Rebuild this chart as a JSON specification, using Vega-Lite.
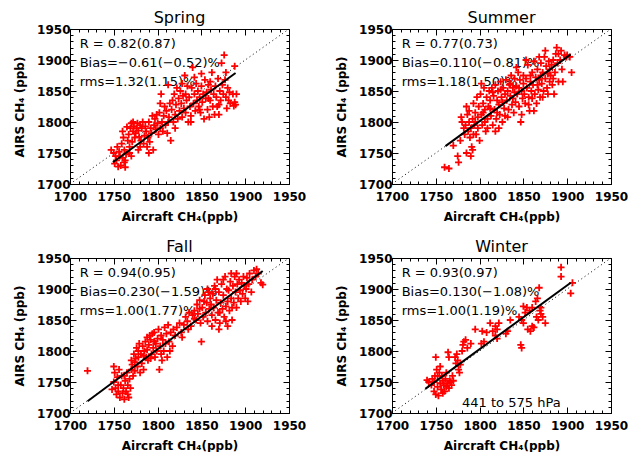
{
  "$schema": "https://vega.github.io/schema/vega-lite/v6.json",
  "background": "white",
  "padding": {"left": 13, "top": 9, "right": 5, "bottom": 0},
  "data": {"values": [
    {"p":"Spring","k":"one","x":1700,"y":1700},{"p":"Spring","k":"one","x":1950,"y":1950},
    {"p":"Summer","k":"one","x":1700,"y":1700},{"p":"Summer","k":"one","x":1950,"y":1950},
    {"p":"Fall","k":"one","x":1700,"y":1700},{"p":"Fall","k":"one","x":1950,"y":1950},
    {"p":"Winter","k":"one","x":1700,"y":1700},{"p":"Winter","k":"one","x":1950,"y":1950},
    {"p":"Spring","k":"fit","x":1749,"y":1735},{"p":"Spring","k":"fit","x":1889,"y":1879},
    {"p":"Summer","k":"fit","x":1761,"y":1761},{"p":"Summer","k":"fit","x":1904,"y":1909},
    {"p":"Fall","k":"fit","x":1720,"y":1719},{"p":"Fall","k":"fit","x":1920,"y":1929},
    {"p":"Winter","k":"fit","x":1738,"y":1739},{"p":"Winter","k":"fit","x":1904,"y":1910},
    {"p":"Spring","k":"txt","x":1711,"y":1926,"t":"R = 0.82(0.87)"},
    {"p":"Spring","k":"txt","x":1711,"y":1895,"t":"Bias=−0.61(−0.52)%"},
    {"p":"Spring","k":"txt","x":1711,"y":1865,"t":"rms=1.32(1.15)%"},
    {"p":"Summer","k":"txt","x":1711,"y":1926,"t":"R = 0.77(0.73)"},
    {"p":"Summer","k":"txt","x":1711,"y":1895,"t":"Bias=0.110(−0.81)%"},
    {"p":"Summer","k":"txt","x":1711,"y":1865,"t":"rms=1.18(1.50)%"},
    {"p":"Fall","k":"txt","x":1711,"y":1926,"t":"R = 0.94(0.95)"},
    {"p":"Fall","k":"txt","x":1711,"y":1895,"t":"Bias=0.230(−1.59)%"},
    {"p":"Fall","k":"txt","x":1711,"y":1865,"t":"rms=1.00(1.77)%"},
    {"p":"Winter","k":"txt","x":1711,"y":1926,"t":"R = 0.93(0.97)"},
    {"p":"Winter","k":"txt","x":1711,"y":1895,"t":"Bias=0.130(−1.08)%"},
    {"p":"Winter","k":"txt","x":1711,"y":1865,"t":"rms=1.00(1.19)%"},
    {"p":"Winter","k":"txt","x":1780,"y":1716,"t":"441  to  575  hPa"},

    {"p":"Spring","k":"pt","x":1747,"y":1755},{"p":"Spring","k":"pt","x":1750,"y":1750},{"p":"Spring","k":"pt","x":1752,"y":1745},{"p":"Spring","k":"pt","x":1753,"y":1738},{"p":"Spring","k":"pt","x":1755,"y":1728},{"p":"Spring","k":"pt","x":1754,"y":1760},{"p":"Spring","k":"pt","x":1756,"y":1752},{"p":"Spring","k":"pt","x":1751,"y":1733},
    {"p":"Spring","k":"pt","x":1757,"y":1745},{"p":"Spring","k":"pt","x":1758,"y":1730},{"p":"Spring","k":"pt","x":1760,"y":1742},{"p":"Spring","k":"pt","x":1759,"y":1765},{"p":"Spring","k":"pt","x":1761,"y":1775},{"p":"Spring","k":"pt","x":1762,"y":1755},{"p":"Spring","k":"pt","x":1763,"y":1738},{"p":"Spring","k":"pt","x":1764,"y":1748},{"p":"Spring","k":"pt","x":1760,"y":1785},{"p":"Spring","k":"pt","x":1765,"y":1792},{"p":"Spring","k":"pt","x":1766,"y":1770},{"p":"Spring","k":"pt","x":1763,"y":1727},{"p":"Spring","k":"pt","x":1762,"y":1735},
    {"p":"Spring","k":"pt","x":1767,"y":1780},{"p":"Spring","k":"pt","x":1768,"y":1760},{"p":"Spring","k":"pt","x":1769,"y":1790},{"p":"Spring","k":"pt","x":1770,"y":1798},{"p":"Spring","k":"pt","x":1771,"y":1768},{"p":"Spring","k":"pt","x":1772,"y":1785},{"p":"Spring","k":"pt","x":1773,"y":1793},{"p":"Spring","k":"pt","x":1774,"y":1775},{"p":"Spring","k":"pt","x":1768,"y":1750},{"p":"Spring","k":"pt","x":1770,"y":1745},{"p":"Spring","k":"pt","x":1772,"y":1800},{"p":"Spring","k":"pt","x":1775,"y":1782},
    {"p":"Spring","k":"pt","x":1776,"y":1790},{"p":"Spring","k":"pt","x":1777,"y":1798},{"p":"Spring","k":"pt","x":1778,"y":1786},{"p":"Spring","k":"pt","x":1779,"y":1776},{"p":"Spring","k":"pt","x":1780,"y":1795},{"p":"Spring","k":"pt","x":1781,"y":1770},{"p":"Spring","k":"pt","x":1782,"y":1790},{"p":"Spring","k":"pt","x":1783,"y":1800},{"p":"Spring","k":"pt","x":1784,"y":1765},{"p":"Spring","k":"pt","x":1785,"y":1778},{"p":"Spring","k":"pt","x":1778,"y":1755},{"p":"Spring","k":"pt","x":1780,"y":1760},
    {"p":"Spring","k":"pt","x":1786,"y":1793},{"p":"Spring","k":"pt","x":1787,"y":1785},{"p":"Spring","k":"pt","x":1788,"y":1760},{"p":"Spring","k":"pt","x":1789,"y":1775},{"p":"Spring","k":"pt","x":1790,"y":1800},{"p":"Spring","k":"pt","x":1791,"y":1768},{"p":"Spring","k":"pt","x":1792,"y":1790},{"p":"Spring","k":"pt","x":1793,"y":1782},{"p":"Spring","k":"pt","x":1794,"y":1810},{"p":"Spring","k":"pt","x":1795,"y":1755},{"p":"Spring","k":"pt","x":1790,"y":1750},
    {"p":"Spring","k":"pt","x":1796,"y":1795},{"p":"Spring","k":"pt","x":1797,"y":1805},{"p":"Spring","k":"pt","x":1798,"y":1788},{"p":"Spring","k":"pt","x":1799,"y":1812},{"p":"Spring","k":"pt","x":1800,"y":1798},{"p":"Spring","k":"pt","x":1801,"y":1780},{"p":"Spring","k":"pt","x":1802,"y":1815},{"p":"Spring","k":"pt","x":1803,"y":1830},{"p":"Spring","k":"pt","x":1804,"y":1845},{"p":"Spring","k":"pt","x":1805,"y":1800},{"p":"Spring","k":"pt","x":1803,"y":1790},
    {"p":"Spring","k":"pt","x":1806,"y":1785},{"p":"Spring","k":"pt","x":1807,"y":1810},{"p":"Spring","k":"pt","x":1808,"y":1825},{"p":"Spring","k":"pt","x":1809,"y":1795},{"p":"Spring","k":"pt","x":1810,"y":1818},{"p":"Spring","k":"pt","x":1811,"y":1782},{"p":"Spring","k":"pt","x":1812,"y":1860},{"p":"Spring","k":"pt","x":1813,"y":1808},{"p":"Spring","k":"pt","x":1814,"y":1830},{"p":"Spring","k":"pt","x":1815,"y":1770},{"p":"Spring","k":"pt","x":1812,"y":1800},
    {"p":"Spring","k":"pt","x":1816,"y":1820},{"p":"Spring","k":"pt","x":1817,"y":1835},{"p":"Spring","k":"pt","x":1818,"y":1800},{"p":"Spring","k":"pt","x":1819,"y":1845},{"p":"Spring","k":"pt","x":1820,"y":1812},{"p":"Spring","k":"pt","x":1821,"y":1828},{"p":"Spring","k":"pt","x":1822,"y":1855},{"p":"Spring","k":"pt","x":1823,"y":1805},{"p":"Spring","k":"pt","x":1824,"y":1838},{"p":"Spring","k":"pt","x":1825,"y":1818},{"p":"Spring","k":"pt","x":1820,"y":1790},
    {"p":"Spring","k":"pt","x":1826,"y":1850},{"p":"Spring","k":"pt","x":1827,"y":1830},{"p":"Spring","k":"pt","x":1828,"y":1808},{"p":"Spring","k":"pt","x":1829,"y":1842},{"p":"Spring","k":"pt","x":1830,"y":1822},{"p":"Spring","k":"pt","x":1831,"y":1875},{"p":"Spring","k":"pt","x":1832,"y":1815},{"p":"Spring","k":"pt","x":1833,"y":1835},{"p":"Spring","k":"pt","x":1834,"y":1858},{"p":"Spring","k":"pt","x":1835,"y":1800},{"p":"Spring","k":"pt","x":1828,"y":1862},{"p":"Spring","k":"pt","x":1832,"y":1845},
    {"p":"Spring","k":"pt","x":1836,"y":1840},{"p":"Spring","k":"pt","x":1837,"y":1825},{"p":"Spring","k":"pt","x":1838,"y":1810},{"p":"Spring","k":"pt","x":1839,"y":1855},{"p":"Spring","k":"pt","x":1840,"y":1888},{"p":"Spring","k":"pt","x":1841,"y":1830},{"p":"Spring","k":"pt","x":1842,"y":1845},{"p":"Spring","k":"pt","x":1843,"y":1818},{"p":"Spring","k":"pt","x":1844,"y":1862},{"p":"Spring","k":"pt","x":1845,"y":1835},{"p":"Spring","k":"pt","x":1838,"y":1800},{"p":"Spring","k":"pt","x":1842,"y":1872},
    {"p":"Spring","k":"pt","x":1846,"y":1850},{"p":"Spring","k":"pt","x":1847,"y":1825},{"p":"Spring","k":"pt","x":1848,"y":1840},{"p":"Spring","k":"pt","x":1849,"y":1815},{"p":"Spring","k":"pt","x":1850,"y":1858},{"p":"Spring","k":"pt","x":1851,"y":1832},{"p":"Spring","k":"pt","x":1852,"y":1845},{"p":"Spring","k":"pt","x":1853,"y":1805},{"p":"Spring","k":"pt","x":1854,"y":1868},{"p":"Spring","k":"pt","x":1855,"y":1838},{"p":"Spring","k":"pt","x":1850,"y":1878},{"p":"Spring","k":"pt","x":1848,"y":1820},
    {"p":"Spring","k":"pt","x":1856,"y":1848},{"p":"Spring","k":"pt","x":1857,"y":1820},{"p":"Spring","k":"pt","x":1858,"y":1860},{"p":"Spring","k":"pt","x":1859,"y":1808},{"p":"Spring","k":"pt","x":1860,"y":1835},{"p":"Spring","k":"pt","x":1861,"y":1852},{"p":"Spring","k":"pt","x":1862,"y":1880},{"p":"Spring","k":"pt","x":1863,"y":1825},{"p":"Spring","k":"pt","x":1864,"y":1845},{"p":"Spring","k":"pt","x":1865,"y":1812},{"p":"Spring","k":"pt","x":1860,"y":1865},{"p":"Spring","k":"pt","x":1858,"y":1838},
    {"p":"Spring","k":"pt","x":1866,"y":1858},{"p":"Spring","k":"pt","x":1867,"y":1840},{"p":"Spring","k":"pt","x":1868,"y":1825},{"p":"Spring","k":"pt","x":1869,"y":1870},{"p":"Spring","k":"pt","x":1870,"y":1812},{"p":"Spring","k":"pt","x":1871,"y":1850},{"p":"Spring","k":"pt","x":1872,"y":1835},{"p":"Spring","k":"pt","x":1873,"y":1895},{"p":"Spring","k":"pt","x":1874,"y":1860},{"p":"Spring","k":"pt","x":1875,"y":1845},{"p":"Spring","k":"pt","x":1870,"y":1828},
    {"p":"Spring","k":"pt","x":1876,"y":1908},{"p":"Spring","k":"pt","x":1877,"y":1868},{"p":"Spring","k":"pt","x":1878,"y":1840},{"p":"Spring","k":"pt","x":1879,"y":1822},{"p":"Spring","k":"pt","x":1880,"y":1855},{"p":"Spring","k":"pt","x":1881,"y":1835},{"p":"Spring","k":"pt","x":1882,"y":1848},{"p":"Spring","k":"pt","x":1883,"y":1830},{"p":"Spring","k":"pt","x":1878,"y":1880},
    {"p":"Spring","k":"pt","x":1886,"y":1845},{"p":"Spring","k":"pt","x":1888,"y":1832},{"p":"Spring","k":"pt","x":1889,"y":1828},{"p":"Spring","k":"pt","x":1890,"y":1845},{"p":"Spring","k":"pt","x":1888,"y":1890},{"p":"Spring","k":"pt","x":1887,"y":1826},

    {"p":"Summer","k":"pt","x":1760,"y":1727},{"p":"Summer","k":"pt","x":1765,"y":1725},{"p":"Summer","k":"pt","x":1770,"y":1762},{"p":"Summer","k":"pt","x":1775,"y":1745},{"p":"Summer","k":"pt","x":1776,"y":1735},{"p":"Summer","k":"pt","x":1778,"y":1770},{"p":"Summer","k":"pt","x":1780,"y":1800},{"p":"Summer","k":"pt","x":1782,"y":1790},{"p":"Summer","k":"pt","x":1779,"y":1808},
    {"p":"Summer","k":"pt","x":1783,"y":1780},{"p":"Summer","k":"pt","x":1784,"y":1795},{"p":"Summer","k":"pt","x":1785,"y":1825},{"p":"Summer","k":"pt","x":1786,"y":1812},{"p":"Summer","k":"pt","x":1787,"y":1785},{"p":"Summer","k":"pt","x":1788,"y":1800},{"p":"Summer","k":"pt","x":1789,"y":1775},{"p":"Summer","k":"pt","x":1785,"y":1750},{"p":"Summer","k":"pt","x":1790,"y":1745},{"p":"Summer","k":"pt","x":1788,"y":1818},{"p":"Summer","k":"pt","x":1790,"y":1790},
    {"p":"Summer","k":"pt","x":1791,"y":1760},{"p":"Summer","k":"pt","x":1792,"y":1755},{"p":"Summer","k":"pt","x":1792,"y":1805},{"p":"Summer","k":"pt","x":1793,"y":1830},{"p":"Summer","k":"pt","x":1794,"y":1795},{"p":"Summer","k":"pt","x":1795,"y":1815},{"p":"Summer","k":"pt","x":1796,"y":1780},{"p":"Summer","k":"pt","x":1797,"y":1840},{"p":"Summer","k":"pt","x":1798,"y":1808},{"p":"Summer","k":"pt","x":1799,"y":1825},{"p":"Summer","k":"pt","x":1800,"y":1770},{"p":"Summer","k":"pt","x":1795,"y":1800},{"p":"Summer","k":"pt","x":1798,"y":1790},{"p":"Summer","k":"pt","x":1793,"y":1780},
    {"p":"Summer","k":"pt","x":1801,"y":1845},{"p":"Summer","k":"pt","x":1802,"y":1812},{"p":"Summer","k":"pt","x":1803,"y":1795},{"p":"Summer","k":"pt","x":1804,"y":1830},{"p":"Summer","k":"pt","x":1805,"y":1855},{"p":"Summer","k":"pt","x":1806,"y":1820},{"p":"Summer","k":"pt","x":1807,"y":1785},{"p":"Summer","k":"pt","x":1808,"y":1840},{"p":"Summer","k":"pt","x":1809,"y":1805},{"p":"Summer","k":"pt","x":1810,"y":1825},{"p":"Summer","k":"pt","x":1802,"y":1862},{"p":"Summer","k":"pt","x":1806,"y":1800},{"p":"Summer","k":"pt","x":1809,"y":1790},{"p":"Summer","k":"pt","x":1804,"y":1815},
    {"p":"Summer","k":"pt","x":1811,"y":1850},{"p":"Summer","k":"pt","x":1812,"y":1835},{"p":"Summer","k":"pt","x":1813,"y":1810},{"p":"Summer","k":"pt","x":1814,"y":1855},{"p":"Summer","k":"pt","x":1815,"y":1795},{"p":"Summer","k":"pt","x":1816,"y":1842},{"p":"Summer","k":"pt","x":1817,"y":1820},{"p":"Summer","k":"pt","x":1818,"y":1860},{"p":"Summer","k":"pt","x":1819,"y":1805},{"p":"Summer","k":"pt","x":1820,"y":1835},{"p":"Summer","k":"pt","x":1812,"y":1822},{"p":"Summer","k":"pt","x":1815,"y":1848},{"p":"Summer","k":"pt","x":1818,"y":1785},{"p":"Summer","k":"pt","x":1820,"y":1815},
    {"p":"Summer","k":"pt","x":1821,"y":1850},{"p":"Summer","k":"pt","x":1822,"y":1828},{"p":"Summer","k":"pt","x":1823,"y":1812},{"p":"Summer","k":"pt","x":1824,"y":1865},{"p":"Summer","k":"pt","x":1825,"y":1840},{"p":"Summer","k":"pt","x":1826,"y":1800},{"p":"Summer","k":"pt","x":1827,"y":1855},{"p":"Summer","k":"pt","x":1828,"y":1822},{"p":"Summer","k":"pt","x":1829,"y":1845},{"p":"Summer","k":"pt","x":1830,"y":1868},{"p":"Summer","k":"pt","x":1822,"y":1790},{"p":"Summer","k":"pt","x":1826,"y":1832},{"p":"Summer","k":"pt","x":1829,"y":1810},{"p":"Summer","k":"pt","x":1824,"y":1852},
    {"p":"Summer","k":"pt","x":1831,"y":1835},{"p":"Summer","k":"pt","x":1832,"y":1850},{"p":"Summer","k":"pt","x":1833,"y":1820},{"p":"Summer","k":"pt","x":1834,"y":1860},{"p":"Summer","k":"pt","x":1835,"y":1842},{"p":"Summer","k":"pt","x":1836,"y":1875},{"p":"Summer","k":"pt","x":1837,"y":1828},{"p":"Summer","k":"pt","x":1838,"y":1855},{"p":"Summer","k":"pt","x":1839,"y":1815},{"p":"Summer","k":"pt","x":1840,"y":1848},{"p":"Summer","k":"pt","x":1832,"y":1808},{"p":"Summer","k":"pt","x":1835,"y":1862},{"p":"Summer","k":"pt","x":1838,"y":1838},{"p":"Summer","k":"pt","x":1840,"y":1870},
    {"p":"Summer","k":"pt","x":1841,"y":1832},{"p":"Summer","k":"pt","x":1842,"y":1858},{"p":"Summer","k":"pt","x":1843,"y":1845},{"p":"Summer","k":"pt","x":1844,"y":1880},{"p":"Summer","k":"pt","x":1845,"y":1825},{"p":"Summer","k":"pt","x":1846,"y":1868},{"p":"Summer","k":"pt","x":1847,"y":1800},{"p":"Summer","k":"pt","x":1848,"y":1850},{"p":"Summer","k":"pt","x":1849,"y":1838},{"p":"Summer","k":"pt","x":1850,"y":1862},{"p":"Summer","k":"pt","x":1842,"y":1888},{"p":"Summer","k":"pt","x":1845,"y":1855},{"p":"Summer","k":"pt","x":1848,"y":1812},{"p":"Summer","k":"pt","x":1850,"y":1875},
    {"p":"Summer","k":"pt","x":1851,"y":1845},{"p":"Summer","k":"pt","x":1852,"y":1830},{"p":"Summer","k":"pt","x":1853,"y":1870},{"p":"Summer","k":"pt","x":1854,"y":1855},{"p":"Summer","k":"pt","x":1855,"y":1892},{"p":"Summer","k":"pt","x":1856,"y":1840},{"p":"Summer","k":"pt","x":1857,"y":1818},{"p":"Summer","k":"pt","x":1858,"y":1865},{"p":"Summer","k":"pt","x":1859,"y":1850},{"p":"Summer","k":"pt","x":1860,"y":1880},{"p":"Summer","k":"pt","x":1853,"y":1900},{"p":"Summer","k":"pt","x":1856,"y":1828},{"p":"Summer","k":"pt","x":1860,"y":1838},{"p":"Summer","k":"pt","x":1858,"y":1875},
    {"p":"Summer","k":"pt","x":1861,"y":1860},{"p":"Summer","k":"pt","x":1862,"y":1898},{"p":"Summer","k":"pt","x":1863,"y":1845},{"p":"Summer","k":"pt","x":1864,"y":1872},{"p":"Summer","k":"pt","x":1865,"y":1830},{"p":"Summer","k":"pt","x":1866,"y":1885},{"p":"Summer","k":"pt","x":1867,"y":1852},{"p":"Summer","k":"pt","x":1868,"y":1868},{"p":"Summer","k":"pt","x":1869,"y":1840},{"p":"Summer","k":"pt","x":1870,"y":1875},{"p":"Summer","k":"pt","x":1862,"y":1818},{"p":"Summer","k":"pt","x":1866,"y":1860},{"p":"Summer","k":"pt","x":1870,"y":1895},{"p":"Summer","k":"pt","x":1868,"y":1905},
    {"p":"Summer","k":"pt","x":1871,"y":1862},{"p":"Summer","k":"pt","x":1872,"y":1880},{"p":"Summer","k":"pt","x":1873,"y":1850},{"p":"Summer","k":"pt","x":1874,"y":1905},{"p":"Summer","k":"pt","x":1875,"y":1870},{"p":"Summer","k":"pt","x":1876,"y":1890},{"p":"Summer","k":"pt","x":1877,"y":1855},{"p":"Summer","k":"pt","x":1878,"y":1878},{"p":"Summer","k":"pt","x":1879,"y":1898},{"p":"Summer","k":"pt","x":1880,"y":1865},{"p":"Summer","k":"pt","x":1872,"y":1840},{"p":"Summer","k":"pt","x":1875,"y":1915},{"p":"Summer","k":"pt","x":1878,"y":1845},{"p":"Summer","k":"pt","x":1880,"y":1885},
    {"p":"Summer","k":"pt","x":1881,"y":1875},{"p":"Summer","k":"pt","x":1882,"y":1892},{"p":"Summer","k":"pt","x":1883,"y":1860},{"p":"Summer","k":"pt","x":1884,"y":1900},{"p":"Summer","k":"pt","x":1885,"y":1845},{"p":"Summer","k":"pt","x":1886,"y":1880},{"p":"Summer","k":"pt","x":1887,"y":1910},{"p":"Summer","k":"pt","x":1888,"y":1920},{"p":"Summer","k":"pt","x":1889,"y":1895},{"p":"Summer","k":"pt","x":1890,"y":1865},{"p":"Summer","k":"pt","x":1884,"y":1870},{"p":"Summer","k":"pt","x":1890,"y":1910},
    {"p":"Summer","k":"pt","x":1892,"y":1900},{"p":"Summer","k":"pt","x":1894,"y":1885},{"p":"Summer","k":"pt","x":1895,"y":1865},{"p":"Summer","k":"pt","x":1897,"y":1908},{"p":"Summer","k":"pt","x":1899,"y":1905},{"p":"Summer","k":"pt","x":1900,"y":1908},{"p":"Summer","k":"pt","x":1903,"y":1905},{"p":"Summer","k":"pt","x":1905,"y":1880},{"p":"Summer","k":"pt","x":1893,"y":1915},

    {"p":"Fall","k":"pt","x":1720,"y":1768},
    {"p":"Fall","k":"pt","x":1748,"y":1738},{"p":"Fall","k":"pt","x":1750,"y":1775},{"p":"Fall","k":"pt","x":1751,"y":1765},{"p":"Fall","k":"pt","x":1752,"y":1740},{"p":"Fall","k":"pt","x":1753,"y":1730},{"p":"Fall","k":"pt","x":1754,"y":1758},{"p":"Fall","k":"pt","x":1755,"y":1735},{"p":"Fall","k":"pt","x":1756,"y":1770},{"p":"Fall","k":"pt","x":1757,"y":1725},{"p":"Fall","k":"pt","x":1758,"y":1745},{"p":"Fall","k":"pt","x":1759,"y":1760},{"p":"Fall","k":"pt","x":1760,"y":1732},{"p":"Fall","k":"pt","x":1750,"y":1750},{"p":"Fall","k":"pt","x":1755,"y":1745},
    {"p":"Fall","k":"pt","x":1761,"y":1740},{"p":"Fall","k":"pt","x":1762,"y":1722},{"p":"Fall","k":"pt","x":1763,"y":1752},{"p":"Fall","k":"pt","x":1764,"y":1735},{"p":"Fall","k":"pt","x":1765,"y":1765},{"p":"Fall","k":"pt","x":1766,"y":1745},{"p":"Fall","k":"pt","x":1767,"y":1725},{"p":"Fall","k":"pt","x":1768,"y":1755},{"p":"Fall","k":"pt","x":1769,"y":1740},{"p":"Fall","k":"pt","x":1770,"y":1770},{"p":"Fall","k":"pt","x":1762,"y":1760},{"p":"Fall","k":"pt","x":1766,"y":1730},{"p":"Fall","k":"pt","x":1770,"y":1785},
    {"p":"Fall","k":"pt","x":1771,"y":1778},{"p":"Fall","k":"pt","x":1772,"y":1760},{"p":"Fall","k":"pt","x":1773,"y":1795},{"p":"Fall","k":"pt","x":1774,"y":1768},{"p":"Fall","k":"pt","x":1775,"y":1788},{"p":"Fall","k":"pt","x":1776,"y":1805},{"p":"Fall","k":"pt","x":1777,"y":1775},{"p":"Fall","k":"pt","x":1778,"y":1790},{"p":"Fall","k":"pt","x":1779,"y":1812},{"p":"Fall","k":"pt","x":1780,"y":1765},{"p":"Fall","k":"pt","x":1774,"y":1782},{"p":"Fall","k":"pt","x":1778,"y":1800},
    {"p":"Fall","k":"pt","x":1781,"y":1795},{"p":"Fall","k":"pt","x":1782,"y":1780},{"p":"Fall","k":"pt","x":1783,"y":1808},{"p":"Fall","k":"pt","x":1784,"y":1770},{"p":"Fall","k":"pt","x":1785,"y":1800},{"p":"Fall","k":"pt","x":1786,"y":1815},{"p":"Fall","k":"pt","x":1787,"y":1790},{"p":"Fall","k":"pt","x":1788,"y":1822},{"p":"Fall","k":"pt","x":1789,"y":1785},{"p":"Fall","k":"pt","x":1790,"y":1810},{"p":"Fall","k":"pt","x":1784,"y":1792},{"p":"Fall","k":"pt","x":1788,"y":1802},
    {"p":"Fall","k":"pt","x":1791,"y":1825},{"p":"Fall","k":"pt","x":1792,"y":1818},{"p":"Fall","k":"pt","x":1793,"y":1795},{"p":"Fall","k":"pt","x":1794,"y":1828},{"p":"Fall","k":"pt","x":1795,"y":1805},{"p":"Fall","k":"pt","x":1796,"y":1830},{"p":"Fall","k":"pt","x":1797,"y":1790},{"p":"Fall","k":"pt","x":1798,"y":1812},{"p":"Fall","k":"pt","x":1799,"y":1800},{"p":"Fall","k":"pt","x":1800,"y":1820},{"p":"Fall","k":"pt","x":1792,"y":1788},{"p":"Fall","k":"pt","x":1796,"y":1815},
    {"p":"Fall","k":"pt","x":1801,"y":1835},{"p":"Fall","k":"pt","x":1802,"y":1770},{"p":"Fall","k":"pt","x":1803,"y":1808},{"p":"Fall","k":"pt","x":1804,"y":1825},{"p":"Fall","k":"pt","x":1805,"y":1785},{"p":"Fall","k":"pt","x":1806,"y":1818},{"p":"Fall","k":"pt","x":1807,"y":1800},{"p":"Fall","k":"pt","x":1808,"y":1838},{"p":"Fall","k":"pt","x":1809,"y":1812},{"p":"Fall","k":"pt","x":1810,"y":1828},{"p":"Fall","k":"pt","x":1804,"y":1795},
    {"p":"Fall","k":"pt","x":1811,"y":1790},{"p":"Fall","k":"pt","x":1812,"y":1842},{"p":"Fall","k":"pt","x":1813,"y":1815},{"p":"Fall","k":"pt","x":1815,"y":1830},{"p":"Fall","k":"pt","x":1817,"y":1808},{"p":"Fall","k":"pt","x":1818,"y":1835},{"p":"Fall","k":"pt","x":1820,"y":1825},{"p":"Fall","k":"pt","x":1814,"y":1800},
    {"p":"Fall","k":"pt","x":1822,"y":1838},{"p":"Fall","k":"pt","x":1825,"y":1845},{"p":"Fall","k":"pt","x":1827,"y":1830},{"p":"Fall","k":"pt","x":1830,"y":1842},{"p":"Fall","k":"pt","x":1832,"y":1855},{"p":"Fall","k":"pt","x":1834,"y":1848},{"p":"Fall","k":"pt","x":1836,"y":1862},{"p":"Fall","k":"pt","x":1838,"y":1840},{"p":"Fall","k":"pt","x":1840,"y":1858},{"p":"Fall","k":"pt","x":1828,"y":1822},{"p":"Fall","k":"pt","x":1835,"y":1835},
    {"p":"Fall","k":"pt","x":1842,"y":1865},{"p":"Fall","k":"pt","x":1844,"y":1850},{"p":"Fall","k":"pt","x":1845,"y":1875},{"p":"Fall","k":"pt","x":1846,"y":1860},{"p":"Fall","k":"pt","x":1848,"y":1882},{"p":"Fall","k":"pt","x":1849,"y":1845},{"p":"Fall","k":"pt","x":1850,"y":1815},{"p":"Fall","k":"pt","x":1851,"y":1870},{"p":"Fall","k":"pt","x":1852,"y":1855},{"p":"Fall","k":"pt","x":1854,"y":1890},{"p":"Fall","k":"pt","x":1855,"y":1862},{"p":"Fall","k":"pt","x":1856,"y":1878},{"p":"Fall","k":"pt","x":1857,"y":1848},{"p":"Fall","k":"pt","x":1858,"y":1895},{"p":"Fall","k":"pt","x":1859,"y":1868},{"p":"Fall","k":"pt","x":1860,"y":1885},{"p":"Fall","k":"pt","x":1842,"y":1852},{"p":"Fall","k":"pt","x":1848,"y":1868},{"p":"Fall","k":"pt","x":1853,"y":1880},{"p":"Fall","k":"pt","x":1857,"y":1900},
    {"p":"Fall","k":"pt","x":1861,"y":1875},{"p":"Fall","k":"pt","x":1862,"y":1858},{"p":"Fall","k":"pt","x":1863,"y":1892},{"p":"Fall","k":"pt","x":1864,"y":1870},{"p":"Fall","k":"pt","x":1865,"y":1905},{"p":"Fall","k":"pt","x":1866,"y":1850},{"p":"Fall","k":"pt","x":1867,"y":1882},{"p":"Fall","k":"pt","x":1868,"y":1915},{"p":"Fall","k":"pt","x":1869,"y":1862},{"p":"Fall","k":"pt","x":1870,"y":1895},{"p":"Fall","k":"pt","x":1871,"y":1845},{"p":"Fall","k":"pt","x":1872,"y":1878},{"p":"Fall","k":"pt","x":1873,"y":1908},{"p":"Fall","k":"pt","x":1874,"y":1868},{"p":"Fall","k":"pt","x":1875,"y":1890},{"p":"Fall","k":"pt","x":1876,"y":1855},{"p":"Fall","k":"pt","x":1877,"y":1920},{"p":"Fall","k":"pt","x":1878,"y":1872},{"p":"Fall","k":"pt","x":1879,"y":1900},{"p":"Fall","k":"pt","x":1880,"y":1840},{"p":"Fall","k":"pt","x":1866,"y":1900},{"p":"Fall","k":"pt","x":1871,"y":1862},{"p":"Fall","k":"pt","x":1875,"y":1915},{"p":"Fall","k":"pt","x":1878,"y":1848},{"p":"Fall","k":"pt","x":1862,"y":1840},{"p":"Fall","k":"pt","x":1870,"y":1835},{"p":"Fall","k":"pt","x":1880,"y":1880},
    {"p":"Fall","k":"pt","x":1881,"y":1898},{"p":"Fall","k":"pt","x":1882,"y":1865},{"p":"Fall","k":"pt","x":1883,"y":1912},{"p":"Fall","k":"pt","x":1884,"y":1885},{"p":"Fall","k":"pt","x":1885,"y":1850},{"p":"Fall","k":"pt","x":1886,"y":1905},{"p":"Fall","k":"pt","x":1887,"y":1878},{"p":"Fall","k":"pt","x":1888,"y":1920},{"p":"Fall","k":"pt","x":1889,"y":1895},{"p":"Fall","k":"pt","x":1890,"y":1870},{"p":"Fall","k":"pt","x":1891,"y":1908},{"p":"Fall","k":"pt","x":1892,"y":1885},{"p":"Fall","k":"pt","x":1893,"y":1915},{"p":"Fall","k":"pt","x":1894,"y":1898},{"p":"Fall","k":"pt","x":1895,"y":1880},{"p":"Fall","k":"pt","x":1896,"y":1910},{"p":"Fall","k":"pt","x":1897,"y":1892},{"p":"Fall","k":"pt","x":1898,"y":1920},{"p":"Fall","k":"pt","x":1899,"y":1905},{"p":"Fall","k":"pt","x":1900,"y":1885},{"p":"Fall","k":"pt","x":1884,"y":1925},{"p":"Fall","k":"pt","x":1890,"y":1925},{"p":"Fall","k":"pt","x":1885,"y":1870},
    {"p":"Fall","k":"pt","x":1901,"y":1900},{"p":"Fall","k":"pt","x":1902,"y":1918},{"p":"Fall","k":"pt","x":1904,"y":1908},{"p":"Fall","k":"pt","x":1905,"y":1925},{"p":"Fall","k":"pt","x":1907,"y":1895},{"p":"Fall","k":"pt","x":1908,"y":1915},{"p":"Fall","k":"pt","x":1910,"y":1930},{"p":"Fall","k":"pt","x":1912,"y":1920},{"p":"Fall","k":"pt","x":1913,"y":1932},{"p":"Fall","k":"pt","x":1915,"y":1925},{"p":"Fall","k":"pt","x":1918,"y":1910},{"p":"Fall","k":"pt","x":1920,"y":1907},{"p":"Fall","k":"pt","x":1903,"y":1880},

    {"p":"Winter","k":"pt","x":1740,"y":1753},{"p":"Winter","k":"pt","x":1742,"y":1750},{"p":"Winter","k":"pt","x":1745,"y":1745},{"p":"Winter","k":"pt","x":1746,"y":1755},{"p":"Winter","k":"pt","x":1748,"y":1735},{"p":"Winter","k":"pt","x":1749,"y":1760},{"p":"Winter","k":"pt","x":1750,"y":1790},{"p":"Winter","k":"pt","x":1750,"y":1730},{"p":"Winter","k":"pt","x":1751,"y":1770},{"p":"Winter","k":"pt","x":1752,"y":1742},{"p":"Winter","k":"pt","x":1753,"y":1728},{"p":"Winter","k":"pt","x":1754,"y":1765},{"p":"Winter","k":"pt","x":1755,"y":1748},{"p":"Winter","k":"pt","x":1756,"y":1738},{"p":"Winter","k":"pt","x":1757,"y":1760},{"p":"Winter","k":"pt","x":1758,"y":1752},{"p":"Winter","k":"pt","x":1759,"y":1745},{"p":"Winter","k":"pt","x":1760,"y":1735},{"p":"Winter","k":"pt","x":1761,"y":1755},{"p":"Winter","k":"pt","x":1762,"y":1765},{"p":"Winter","k":"pt","x":1763,"y":1748},{"p":"Winter","k":"pt","x":1764,"y":1798},{"p":"Winter","k":"pt","x":1765,"y":1790},{"p":"Winter","k":"pt","x":1766,"y":1752},{"p":"Winter","k":"pt","x":1767,"y":1750},{"p":"Winter","k":"pt","x":1768,"y":1745},{"p":"Winter","k":"pt","x":1769,"y":1760},{"p":"Winter","k":"pt","x":1770,"y":1752},{"p":"Winter","k":"pt","x":1765,"y":1740},{"p":"Winter","k":"pt","x":1755,"y":1775},{"p":"Winter","k":"pt","x":1752,"y":1760},{"p":"Winter","k":"pt","x":1748,"y":1750},{"p":"Winter","k":"pt","x":1758,"y":1732},{"p":"Winter","k":"pt","x":1762,"y":1742},
    {"p":"Winter","k":"pt","x":1772,"y":1790},{"p":"Winter","k":"pt","x":1773,"y":1780},{"p":"Winter","k":"pt","x":1775,"y":1785},{"p":"Winter","k":"pt","x":1776,"y":1770},{"p":"Winter","k":"pt","x":1778,"y":1778},{"p":"Winter","k":"pt","x":1780,"y":1800},{"p":"Winter","k":"pt","x":1782,"y":1815},{"p":"Winter","k":"pt","x":1784,"y":1818},{"p":"Winter","k":"pt","x":1786,"y":1805},{"p":"Winter","k":"pt","x":1790,"y":1812},{"p":"Winter","k":"pt","x":1795,"y":1835},{"p":"Winter","k":"pt","x":1774,"y":1795},{"p":"Winter","k":"pt","x":1777,"y":1765},{"p":"Winter","k":"pt","x":1781,"y":1810},
    {"p":"Winter","k":"pt","x":1802,"y":1812},{"p":"Winter","k":"pt","x":1803,"y":1832},{"p":"Winter","k":"pt","x":1805,"y":1815},{"p":"Winter","k":"pt","x":1808,"y":1830},{"p":"Winter","k":"pt","x":1812,"y":1845},{"p":"Winter","k":"pt","x":1815,"y":1832},{"p":"Winter","k":"pt","x":1818,"y":1840},{"p":"Winter","k":"pt","x":1820,"y":1835},{"p":"Winter","k":"pt","x":1822,"y":1845},{"p":"Winter","k":"pt","x":1820,"y":1820},{"p":"Winter","k":"pt","x":1832,"y":1832},{"p":"Winter","k":"pt","x":1835,"y":1850},{"p":"Winter","k":"pt","x":1830,"y":1828},{"p":"Winter","k":"pt","x":1818,"y":1825},
    {"p":"Winter","k":"pt","x":1845,"y":1855},{"p":"Winter","k":"pt","x":1847,"y":1810},{"p":"Winter","k":"pt","x":1848,"y":1805},{"p":"Winter","k":"pt","x":1848,"y":1850},{"p":"Winter","k":"pt","x":1850,"y":1845},{"p":"Winter","k":"pt","x":1850,"y":1872},{"p":"Winter","k":"pt","x":1852,"y":1862},{"p":"Winter","k":"pt","x":1854,"y":1870},{"p":"Winter","k":"pt","x":1855,"y":1835},{"p":"Winter","k":"pt","x":1857,"y":1865},{"p":"Winter","k":"pt","x":1858,"y":1832},{"p":"Winter","k":"pt","x":1860,"y":1840},{"p":"Winter","k":"pt","x":1862,"y":1838},{"p":"Winter","k":"pt","x":1864,"y":1880},{"p":"Winter","k":"pt","x":1865,"y":1855},{"p":"Winter","k":"pt","x":1867,"y":1850},{"p":"Winter","k":"pt","x":1868,"y":1902},{"p":"Winter","k":"pt","x":1869,"y":1865},{"p":"Winter","k":"pt","x":1870,"y":1860},{"p":"Winter","k":"pt","x":1870,"y":1870},{"p":"Winter","k":"pt","x":1872,"y":1855},{"p":"Winter","k":"pt","x":1875,"y":1845},{"p":"Winter","k":"pt","x":1866,"y":1885},{"p":"Winter","k":"pt","x":1860,"y":1870},
    {"p":"Winter","k":"pt","x":1893,"y":1935},{"p":"Winter","k":"pt","x":1893,"y":1920},{"p":"Winter","k":"pt","x":1906,"y":1910},{"p":"Winter","k":"pt","x":1904,"y":1893}
  ]},
  "facet": {"field": "p", "type": "nominal", "sort": ["Spring", "Summer", "Fall", "Winter"],
    "header": {"title": null, "labelFontSize": 16, "labelFont": "DejaVu Sans", "labelColor": "black", "labelPadding": -3}},
  "columns": 2,
  "spacing": {"column": 28, "row": 15},
  "resolve": {"axis": {"x": "independent", "y": "independent"}},
  "spec": {
    "width": 219,
    "height": 155,
    "resolve": {"axis": {"x": "independent", "y": "independent"}},
    "layer": [
      {
        "transform": [{"filter": "datum.k === 'txt'"}],
        "mark": {"type": "text", "align": "left", "baseline": "middle", "font": "DejaVu Sans", "fontSize": 13, "color": "black"},
        "encoding": {
          "x": {"field": "x", "type": "quantitative", "scale": {"domain": [1700, 1950], "nice": false},
            "axis": {"orient": "top", "labels": false, "title": null, "values": [1700, 1750, 1800, 1850, 1900, 1950], "tickSize": -6, "domain": false}},
          "y": {"field": "y", "type": "quantitative", "scale": {"domain": [1700, 1950], "nice": false},
            "axis": {"orient": "right", "labels": false, "title": null, "values": [1700, 1750, 1800, 1850, 1900, 1950], "tickSize": -6, "domain": false}},
          "text": {"field": "t"}
        }
      },
      {
        "transform": [{"filter": "datum.k === 'one'"}],
        "mark": {"type": "line", "color": "black", "strokeWidth": 1, "strokeDash": [1, 3]},
        "encoding": {
          "x": {"field": "x", "type": "quantitative", "scale": {"domain": [1700, 1950], "nice": false},
            "axis": {"orient": "bottom", "title": "Aircraft CH₄(ppb)", "values": [1700, 1750, 1800, 1850, 1900, 1950], "format": "d", "tickSize": -6, "labelPadding": 13, "labelOverlap": false, "labelFlush": false, "titlePadding": 9}},
          "y": {"field": "y", "type": "quantitative", "scale": {"domain": [1700, 1950], "nice": false},
            "axis": {"orient": "left", "title": "AIRS CH₄ (ppb)", "values": [1700, 1750, 1800, 1850, 1900, 1950], "format": "d", "tickSize": -6, "labelPadding": 6, "labelOverlap": false, "titlePadding": 10}}
        }
      },
      {
        "transform": [{"filter": "datum.k === 'one'"}],
        "mark": {"type": "line", "opacity": 0},
        "encoding": {
          "x": {"field": "x", "type": "quantitative",
            "axis": {"orient": "bottom", "labels": false, "title": null, "domain": false, "values": [1710, 1720, 1730, 1740, 1760, 1770, 1780, 1790, 1810, 1820, 1830, 1840, 1860, 1870, 1880, 1890, 1910, 1920, 1930, 1940], "tickSize": -3}},
          "y": {"field": "y", "type": "quantitative",
            "axis": {"orient": "left", "labels": false, "title": null, "domain": false, "values": [1710, 1720, 1730, 1740, 1760, 1770, 1780, 1790, 1810, 1820, 1830, 1840, 1860, 1870, 1880, 1890, 1910, 1920, 1930, 1940], "tickSize": -3}}
        }
      },
      {
        "transform": [{"filter": "datum.k === 'one'"}],
        "mark": {"type": "line", "opacity": 0},
        "encoding": {
          "x": {"field": "x", "type": "quantitative",
            "axis": {"orient": "top", "labels": false, "title": null, "domain": false, "values": [1710, 1720, 1730, 1740, 1760, 1770, 1780, 1790, 1810, 1820, 1830, 1840, 1860, 1870, 1880, 1890, 1910, 1920, 1930, 1940], "tickSize": -3}},
          "y": {"field": "y", "type": "quantitative",
            "axis": {"orient": "right", "labels": false, "title": null, "domain": false, "values": [1710, 1720, 1730, 1740, 1760, 1770, 1780, 1790, 1810, 1820, 1830, 1840, 1860, 1870, 1880, 1890, 1910, 1920, 1930, 1940], "tickSize": -3}}
        }
      },
      {
        "transform": [{"filter": "datum.k === 'pt'"}],
        "mark": {"type": "point", "shape": "M-1,0L1,0M0,-1L0,1", "filled": false, "color": "#ff0000", "strokeWidth": 1.8, "size": 49, "opacity": 1},
        "encoding": {
          "x": {"field": "x", "type": "quantitative", "axis": null},
          "y": {"field": "y", "type": "quantitative", "axis": null}
        }
      },
      {
        "transform": [{"filter": "datum.k === 'fit'"}],
        "mark": {"type": "line", "color": "black", "strokeWidth": 2},
        "encoding": {
          "x": {"field": "x", "type": "quantitative", "axis": null},
          "y": {"field": "y", "type": "quantitative", "axis": null}
        }
      }
    ]
  },
  "config": {
    "view": {"stroke": "black", "strokeWidth": 1},
    "axis": {"grid": false, "labelFont": "DejaVu Sans", "labelFontWeight": "bold", "labelFontSize": 12, "labelColor": "black",
      "titleFont": "DejaVu Sans", "titleFontWeight": "bold", "titleFontSize": 12, "titleColor": "black",
      "tickColor": "black", "domainColor": "black"}
  }
}
